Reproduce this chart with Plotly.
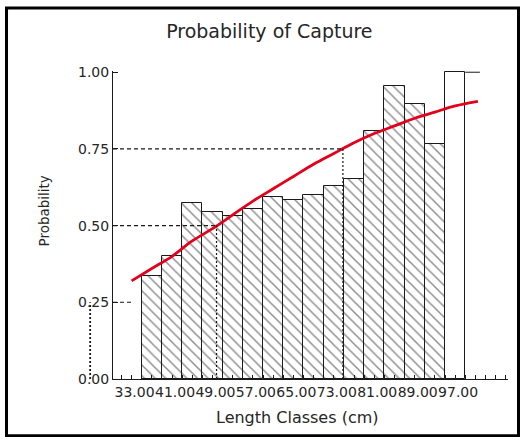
import plotly.graph_objects as go

# Length classes (cm): class mid-points and observed probability of capture
class_mid = [37, 41, 45, 49, 53, 57, 61, 65, 69, 73, 77, 81, 85, 89, 93]
prob_obs = [0.337, 0.402, 0.574, 0.544, 0.530, 0.554, 0.592, 0.585, 0.600,
            0.628, 0.652, 0.810, 0.954, 0.897, 0.765]
class_width = 4

# last (unhatched) class and the open top of the class after it
last_mid = [97]
last_prob = [1.00]
open_x = [99.0, 101.9]
open_y = [1.00, 1.00]

# fitted selection curve (logistic), points along the curve
curve_x = [33, 37, 41, 45, 49, 53, 57, 61, 65, 69, 73, 77, 81, 85, 89, 93, 97, 101.5]
curve_y = [0.32, 0.36, 0.40, 0.45, 0.49, 0.535, 0.58, 0.62, 0.66, 0.70, 0.735,
           0.77, 0.80, 0.825, 0.85, 0.87, 0.89, 0.905]

# lengths at 25 %, 50 % and 75 % probability of capture
L25, L50, L75 = 24.8, 49.8, 74.8
x_first = 33

tick_vals = [33, 41, 49, 57, 65, 73, 81, 89, 97]
tick_text = ["33.00", "41.00", "49.00", "57.00", "65.00", "73.00", "81.00", "89.00", "97.00"]
y_vals = [0, 0.25, 0.5, 0.75, 1.0]
y_text = ["0.00", "0.25", "0.50", "0.75", "1.00"]

X_RANGE = [29.32, 107.46]
Y_RANGE = [0, 1.004]

FONT = "DejaVu Sans"
INK = "#1a1a1a"
TEXT = "#262626"

fig = go.Figure()

fig.add_trace(go.Bar(
    x=class_mid, y=prob_obs, width=class_width,
    marker=dict(color="white",
                line=dict(color=INK, width=1),
                pattern=dict(shape="\\", fgcolor="#1e1e1e", bgcolor="white",
                             size=7.5, solidity=0.2)),
    cliponaxis=False, showlegend=False, hoverinfo="x+y"))

fig.add_trace(go.Bar(
    x=last_mid, y=last_prob, width=class_width,
    marker=dict(color="white", line=dict(color=INK, width=1)),
    cliponaxis=False, showlegend=False))

fig.add_trace(go.Scatter(
    x=open_x, y=open_y, mode="lines",
    line=dict(color=INK, width=1), showlegend=False, hoverinfo="skip"))

fig.add_trace(go.Scatter(
    x=curve_x, y=curve_y, mode="lines",
    line=dict(color="#e3001b", width=2.8, shape="spline"),
    showlegend=False))

guide = dict(color=INK, width=1.1, dash="4px,3px")
dots = dict(color=INK, width=1.2, dash="2px,2px")

shapes = [
    # horizontal guides from the probability axis
    dict(type="line", xref="x", yref="y", x0=X_RANGE[0], x1=x_first, y0=0.25, y1=0.25, line=guide),
    dict(type="line", xref="x", yref="y", x0=X_RANGE[0], x1=L50, y0=0.5, y1=0.5, line=guide),
    dict(type="line", xref="x", yref="y", x0=X_RANGE[0], x1=L75, y0=0.75, y1=0.75, line=guide),
    # vertical drops at L50 and L75
    dict(type="line", xref="x", yref="y", x0=L50, x1=L50, y0=0, y1=0.5, line=dots),
    dict(type="line", xref="x", yref="y", x0=L75, x1=L75, y0=0, y1=0.75, line=dots),
]

# L25 lies left of the axis start, so it is placed in paper units
def xp(v):
    return (v - X_RANGE[0]) / (X_RANGE[1] - X_RANGE[0])

def yp(v):
    return (v - Y_RANGE[0]) / (Y_RANGE[1] - Y_RANGE[0])

shapes.append(dict(type="line", xref="paper", yref="paper",
                   x0=xp(L25), x1=xp(L25), y0=yp(0), y1=yp(0.25),
                   line=dict(color=INK, width=1.8, dash="2px,2px")))

# outer frame
shapes.append(dict(type="rect", xref="paper", yref="paper",
                   x0=-0.2696, x1=1.0266, y0=-0.1843, y1=1.2045,
                   line=dict(color="black", width=3), fillcolor="rgba(0,0,0,0)"))

fig.update_layout(
    width=521, height=437,
    margin=dict(l=113, r=13, t=71, b=58, pad=0),
    paper_bgcolor="white", plot_bgcolor="white",
    font=dict(family=FONT, color=INK),
    bargap=0,
    title=dict(text="Probability of Capture", font=dict(family=FONT, size=19, color=TEXT),
               x=0.517, xref="container", xanchor="center",
               y=1 - 31 / 437, yref="container", yanchor="middle"),
    shapes=shapes,
    annotations=[
        dict(text="Length Classes (cm)", xref="paper", yref="paper",
             x=(297.5 - 113) / 395, y=-(417 - 379) / 308,
             xanchor="center", yanchor="middle", showarrow=False,
             font=dict(family=FONT, size=16, color=TEXT)),
        dict(text="Probability", xref="paper", yref="paper",
             x=(43 - 113) / 395, y=(379 - 211.5) / 308, textangle=-90,
             xanchor="center", yanchor="middle", showarrow=False,
             font=dict(family=FONT, size=13.5, color=TEXT)),
    ],
)

fig.update_xaxes(
    range=X_RANGE, showgrid=False, zeroline=False,
    showline=True, linecolor=INK, linewidth=1,
    tickmode="array", tickvals=tick_vals, ticktext=tick_text,
    ticks="inside", ticklen=4, tickcolor=INK, tickangle=0,
    ticklabelshift=3,
    tickfont=dict(family=FONT, size=14, color=TEXT),
    minor=dict(tick0=33, dtick=2, ticks="inside", ticklen=4, tickcolor=INK, showgrid=False),
)

fig.update_yaxes(
    range=Y_RANGE, showgrid=False, zeroline=False,
    showline=True, linecolor=INK, linewidth=1,
    tickmode="array", tickvals=y_vals, ticktext=y_text,
    ticks="inside", ticklen=5, tickcolor=INK,
    tickfont=dict(family=FONT, size=14, color=TEXT),
)

fig.write_html("out.html")
